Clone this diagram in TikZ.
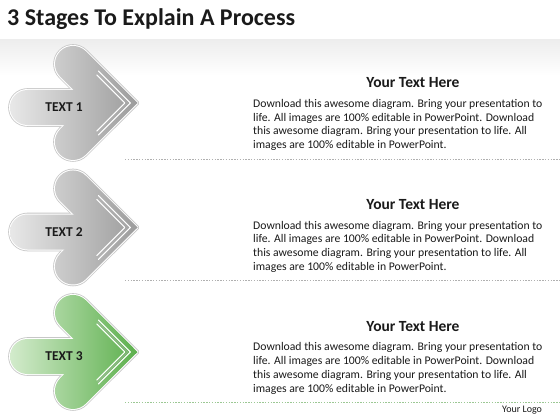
\documentclass[tikz,border=0pt]{standalone}
\usepackage{fontspec}
\setmainfont{Carlito}
\definecolor{tx}{HTML}{1A1A1A}
\definecolor{grayL}{HTML}{E8E8E8}
\definecolor{grayR}{HTML}{9A9A9A}
\definecolor{greenL}{HTML}{D3EBCC}
\definecolor{greenR}{HTML}{5AAE4A}
\definecolor{sepgray}{HTML}{B0B0B0}
\definecolor{sepgreen}{HTML}{9CC894}
\tikzset{
  outerline/.style={draw=black!22, line width=3.6pt, line join=round},
  innerline/.style={draw=white, line width=2pt, line join=round},
  hiwhite/.style={draw=white, line width=1.1pt, line join=round, line cap=round},
  higray/.style={draw=black!30, line width=0.8pt, line join=round, line cap=round, opacity=0.6},
  label/.style={font=\bfseries\fontsize{13.5}{15}\selectfont, text=tx},
  heading/.style={font=\bfseries\fontsize{15.5}{18}\selectfont, text=tx, anchor=base},
  body/.style={font=\fontsize{11.7}{13.5}\selectfont, text=tx, anchor=base west, inner sep=0pt},
  sepline/.style={line width=0.7pt, dash pattern=on 1.4pt off 1.4pt},
}
\newcommand\chevshape{(60.3,76.7) arc[start angle=135,end angle=315,radius=18] -- (137.5,103) -- (85.7,154.7) arc[start angle=45,end angle=225,radius=18] -- (86.5,103) -- cycle}
\newcommand\barshape{(10,90) [rounded corners=17.5pt] rectangle (108,125)}
\begin{document}
\begin{tikzpicture}[x=1pt,y=-1pt]
\useasboundingbox (0,0) rectangle (560,420);
\fill[white] (0,0) rectangle (560,420);
\shade[top color=black!7, bottom color=white] (0,40) rectangle (560,75);
\node[font=\bfseries\fontsize{24}{28}\selectfont, text=tx, anchor=base west, inner sep=0pt] (title) at (7,25.7) {3 Stages To Explain A Process};

\foreach \dy/\n/\cl/\cr in {0/1/grayL/grayR, 124.5/2/grayL/grayR, 249/3/greenL/greenR}{
  \begin{scope}[shift={(0,\dy)}]
    \draw[outerline] \chevshape;
    \draw[outerline] \barshape;
    \draw[innerline] \chevshape;
    \draw[innerline] \barshape;
    \begin{scope}
      \clip \chevshape;
      \shade[left color=\cl, right color=\cr] (10,40) rectangle (140,170);
    \end{scope}
    \begin{scope}
      \clip \barshape;
      \shade[left color=\cl, right color=\cr] (10,40) rectangle (140,170);
    \end{scope}
    \draw[hiwhite] (130.4,103) ++(-32,-32) -- ++(32,32) -- ++(-32,32);
    \draw[higray] (127.6,103) ++(-30,-30) -- ++(30,30) -- ++(-30,30);
    \draw[hiwhite] (124.8,103) ++(-28,-28) -- ++(28,28) -- ++(-28,28);
    \node[label] (t\n) at (64,107.5) {TEXT \n};
  \end{scope}
}

\foreach \dy/\n in {0/1, 121.8/2, 243.6/3}{
  \begin{scope}[shift={(0,\dy)}]
    \node[heading] (h\n) at (413,88) {Your Text Here};
    \node[body] (b\n a) at (253,107.2) {Download this awesome diagram. Bring your presentation to};
    \node[body] (b\n b) at (253,121.1) {life. All images are 100\% editable in PowerPoint. Download};
    \node[body] (b\n c) at (253,135) {this awesome diagram. Bring your presentation to life. All};
    \node[body] (b\n d) at (253,148.9) {images are 100\% editable in PowerPoint.};
  \end{scope}
}

\coordinate (s1a) at (125,159);   \coordinate (s1b) at (560,159);
\coordinate (s2a) at (125,280.5); \coordinate (s2b) at (560,280.5);
\coordinate (s3a) at (125,402);   \coordinate (s3b) at (560,402);
\draw[sepline, draw=sepgray] (s1a) -- (s1b);
\draw[sepline, draw=sepgray] (s2a) -- (s2b);
\draw[sepline, draw=sepgreen] (s3a) -- (s3b);

\node[font=\fontsize{10}{12}\selectfont, text=tx, anchor=base west, inner sep=0pt] (logo) at (502,412.5) {Your Logo};
\end{tikzpicture}
\end{document}
